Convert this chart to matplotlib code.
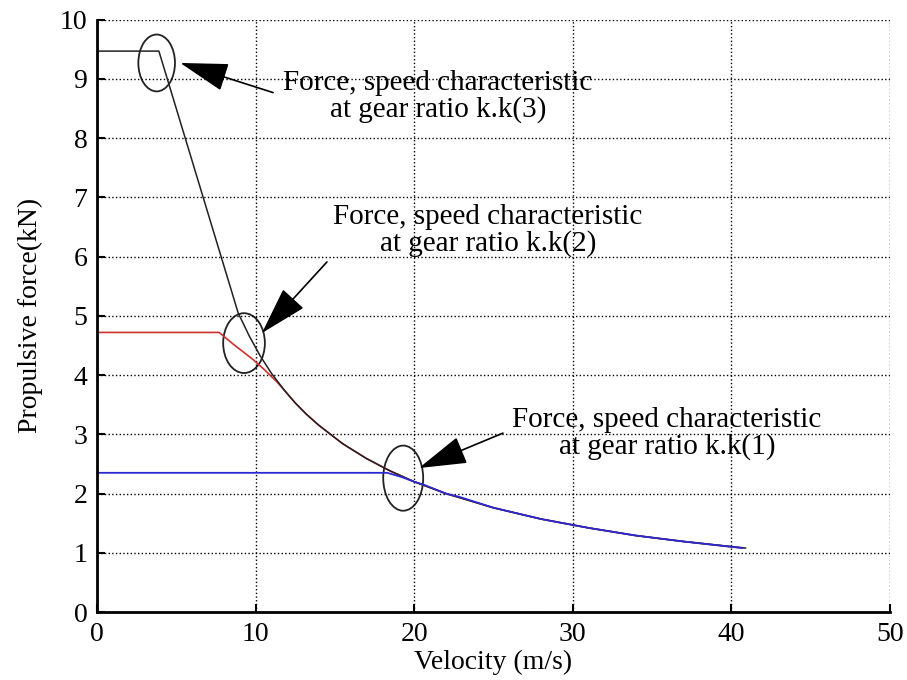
import matplotlib
matplotlib.use("Agg")
import matplotlib.pyplot as plt
from matplotlib.patches import Ellipse

plt.rcParams["font.family"] = ["Liberation Serif", "DejaVu Serif"]

# Force/speed characteristics read per gear ratio (v in m/s, F in kN)
v_k3 = [0, 3.9, 8.9, 9.6, 10.3, 11.0, 11.8, 12.5, 13.2, 14.0, 15.5, 17.0, 18.5,
        20.0, 22.0, 25.0, 28.0, 31.0, 34.0, 37.0, 40.9]
f_k3 = [9.47, 9.47, 5.05, 4.66, 4.32, 4.03, 3.75, 3.53, 3.34, 3.15, 2.84, 2.59,
        2.38, 2.20, 2.00, 1.76, 1.57, 1.42, 1.29, 1.19, 1.08]

v_k2 = [0, 7.7, 8.6, 9.85, 10.6, 11.4, 12.5, 13.2, 14.0, 15.5, 17.0, 18.5, 20.0,
        22.0, 25.0, 28.0, 31.0, 34.0, 37.0, 40.7]
f_k2 = [4.72, 4.72, 4.52, 4.26, 4.08, 3.87, 3.53, 3.34, 3.15, 2.84, 2.59, 2.38,
        2.20, 2.00, 1.76, 1.57, 1.42, 1.29, 1.19, 1.08]

v_k1 = [0, 18.3, 19.2, 20.0, 20.6, 22.0, 22.9, 25.0, 28.0, 31.0, 34.0, 37.0, 40.7]
f_k1 = [2.35, 2.35, 2.28, 2.20, 2.15, 2.00, 1.94, 1.76, 1.57, 1.42, 1.29, 1.19, 1.08]

x_ticks = [0, 10, 20, 30, 40, 50]
y_ticks = [0, 1, 2, 3, 4, 5, 6, 7, 8, 9, 10]

# (ellipse centre, ellipse size, arrow tail, arrow tip, text position, gear label)
callouts = [
    ((3.76, 9.27), (2.31, 0.96), (11.1, 8.77), (5.25, 9.27), (21.5, 8.70), "k.k(3)"),
    ((9.27, 4.54), (2.63, 1.01), (14.5, 5.91), (10.4, 4.71), (24.65, 6.44), "k.k(2)"),
    ((19.31, 2.26), (2.52, 1.10), (25.6, 3.02), (20.3, 2.43), (35.94, 3.02), "k.k(1)"),
]

fig = plt.figure(figsize=(9.07, 6.8), dpi=100)
ax = fig.add_axes([0.107, 0.1, 0.874, 0.871])

ax.plot(v_k2, f_k2, color="#d03030", lw=1.2)
ax.plot(v_k3, f_k3, color="#222222", lw=1.1)
ax.plot(v_k1, f_k1, color="#2a2ad0", lw=1.3)

for centre, size, tail, tip, txt_pos, gear in callouts:
    ax.add_patch(Ellipse(centre, size[0], size[1], fill=False,
                         edgecolor="#222222", lw=1.3))
    ax.annotate("", xy=tip, xytext=tail,
                arrowprops=dict(arrowstyle="-|>,head_length=1.7,head_width=0.5",
                                mutation_scale=18, color="black", lw=1.2,
                                shrinkA=0, shrinkB=0))
    ax.text(txt_pos[0], txt_pos[1],
            "Force, speed characteristic\nat gear ratio " + gear,
            ha="center", va="center", fontsize=21, linespacing=1.0)

ax.set_xlim(0, 50)
ax.set_ylim(0, 10)
ax.set_xticks(x_ticks)
ax.set_yticks(y_ticks)
ax.tick_params(direction="in", length=6, width=1.5, labelsize=20, pad=7)
ax.grid(True, linestyle=":", color="black", lw=1.0)
ax.spines["top"].set_visible(False)
ax.spines["right"].set_visible(False)
ax.spines["left"].set_linewidth(2)
ax.spines["bottom"].set_linewidth(2)

ax.set_xlabel("Velocity (m/s)", fontsize=20, labelpad=2)
ax.set_ylabel("Propulsive force(kN)", fontsize=20, labelpad=12)

fig.savefig("out.png", dpi=100)
